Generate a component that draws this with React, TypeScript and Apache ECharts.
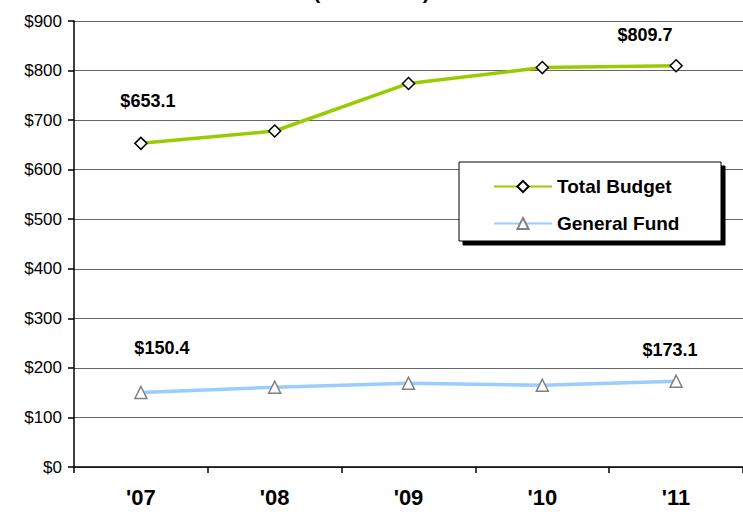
import React, { useEffect, useRef } from "react";
import * as echarts from "echarts";

const categories = ["'07", "'08", "'09", "'10", "'11"];
const totalBudget = [653.1, 678, 774, 806, 809.7];
const generalFund = [150.4, 161, 169, 165, 173.1];
const yTicks = [0, 100, 200, 300, 400, 500, 600, 700, 800, 900];
const titleText = "(In Millions)";

const FONT = "'Liberation Sans', Arial, sans-serif";

export default function App() {
  const ref = useRef<HTMLDivElement>(null);
  useEffect(() => {
    if (!ref.current) return;
    const chart = echarts.init(ref.current, undefined, { renderer: "svg" });
    const labelStyle = { fontFamily: FONT, fontWeight: "bold", fontSize: 18, color: "#000" };
    const mkData = (vals: number[], offsets: Record<number, number[]>) =>
      vals.map((v, i) =>
        offsets[i]
          ? { value: v, label: { show: true, offset: offsets[i], formatter: "$" + v.toFixed(1), ...labelStyle } }
          : v
      );
    chart.setOption({
      animation: false,
      grid: { left: 74, right: 0, top: 21, bottom: 48 },
      graphic: [
        {
          type: "text",
          left: "center",
          top: -19,
          style: { text: titleText, fontFamily: FONT, fontWeight: "bold", fontSize: 21, fill: "#000" },
        },
        {
          type: "rect",
          z: 3,
          shape: { x: 459, y: 162, width: 262, height: 79 },
          style: {
            fill: "#fff",
            stroke: "#000",
            lineWidth: 1,
            shadowColor: "#000",
            shadowOffsetX: 4,
            shadowOffsetY: 4,
            shadowBlur: 0,
          },
        },
      ],
      legend: {
        z: 10,
        orient: "vertical",
        left: 488,
        top: 172,
        itemWidth: 58,
        itemHeight: 14,
        itemGap: 18,
        textStyle: { fontFamily: FONT, fontWeight: "bold", fontSize: 19, color: "#000" },
        data: ["Total Budget", "General Fund"],
      },
      xAxis: {
        type: "category",
        data: categories,
        boundaryGap: true,
        axisLine: { lineStyle: { color: "#000", width: 1.5 } },
        axisTick: { show: true, length: 6, lineStyle: { color: "#000", width: 1.5 } },
        axisLabel: { fontFamily: FONT, fontWeight: "bold", fontSize: 22, color: "#000", margin: 19 },
      },
      yAxis: {
        type: "value",
        min: 0,
        max: 900,
        interval: 100,
        axisLine: { show: true, lineStyle: { color: "#000", width: 1.5 } },
        axisTick: { show: true, length: 6, lineStyle: { color: "#000", width: 1.5 } },
        splitLine: { lineStyle: { color: "#666", width: 1 } },
        axisLabel: {
          fontFamily: FONT,
          fontSize: 17,
          color: "#000",
          margin: 12,
          formatter: (v: number) => (yTicks.includes(v) ? "$" + v : ""),
        },
      },
      series: [
        {
          name: "Total Budget",
          type: "line",
          data: mkData(totalBudget, { 0: [7, -22], 4: [-31, -10] }),
          lineStyle: { color: "#99CC00", width: 3.5 },
          itemStyle: { color: "#fff", borderColor: "#000", borderWidth: 1.5 },
          symbol: "diamond",
          symbolSize: 12,
          label: { show: false, position: "top" },
          z: 2,
        },
        {
          name: "General Fund",
          type: "line",
          data: mkData(generalFund, { 0: [21, -24], 4: [-6, -10] }),
          lineStyle: { color: "#99CCFF", width: 3.5 },
          itemStyle: { color: "#fff", borderColor: "#808080", borderWidth: 1.5 },
          symbol: "triangle",
          symbolSize: 12,
          label: { show: false, position: "top" },
          z: 2,
        },
      ],
    });
    return () => chart.dispose();
  }, []);
  return <div ref={ref} style={{ width: 743, height: 515, position: "absolute", left: 0, top: 0 }} />;
}
